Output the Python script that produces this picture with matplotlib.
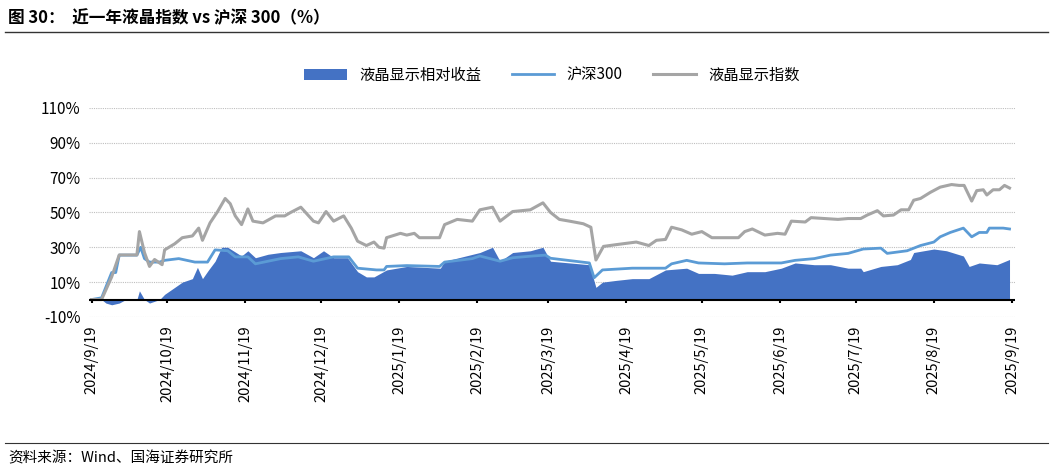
import matplotlib
matplotlib.use("Agg")
import matplotlib.pyplot as plt
import pandas as pd
import numpy as np

plt.rcParams['font.family'] = ['Noto Sans CJK SC', 'DejaVu Sans']

start = pd.Timestamp('2024-09-19')

gray_days = [0,4,8,11,18,19,21,23,25,28,29,33,36,40,42.5,44,47,50,53,55,57,59.5,62,64,68,73,76.6,79,83,88,90,93,96,100,103,105.5,109,112,114,116,117,122.5,125,128,130,138,140,145,151,154,159,162,167,174,179,
             182,185.5,189.5,195,198,200,203,208,216,221,224,227.6,230,234,238,242,246,251,256.5,259,262,267,272,275,277.5,283,285.3,290.6,296,300,305,307.6,311.6,314,318,321,324,326,328.7,332.6,336.5,341,344,346,349,351,353.6,355,357.5,360,362,364]
gray_vals = [0,0,13,25.6,25.6,39,27,19,23,20,28.5,32,35.5,36.5,41,34,44,50.5,58,55,48,43,52,45,44,48,48,50,53,45,44,50.5,45,48,41,33.5,31,33,30,29.5,35.5,38,37,38,35.5,35.5,43,46,45,51.5,53,45,50.5,51.5,55.5,
             50,46,45,43.5,41.5,22.7,30.5,31.5,33,31,34,34.5,41.5,40,37.5,39,35.5,35.5,35.5,39,40.5,37,38,37.5,45,44.5,47,46.5,46,46.5,46.5,48.5,51,48,48.5,51.5,51.5,57,58,61.5,64.5,66,65.5,65.5,56.5,62.5,63,60,63,63,65.5,64]

hs_days = [0,4,8,9.6,11,18,19.5,21,23,27,29,34.6,41,46,49,54,57,62,65,70,75,82,88,96,102,105.5,113,116,117,125,138,140,151,154,162,167,175,180,
           182,197.4,199.3,202.6,214.4,227.6,230,236,240.7,251,260,273.5,279,286.6,293,300,306,313,315.5,323.4,328.7,334,336.5,340.5,345.7,349,352,355,356,361.5,364]
hs_vals = [0,1,15.5,15.5,25.5,25.5,30,23.5,21.5,21.5,22.5,23.5,21.5,21.5,28.5,28,24.5,24.5,20.5,22,23.5,24.5,22,24.5,24.5,18,17,17,19,19.5,19,21.5,23.5,25,22,24,25,25.5,
           23.7,21,12.5,17,18,18,20.5,22.5,21,20.5,21,21,22.5,23.5,25.5,26.5,29,29.5,26.5,28,31,33,36,38.5,41,36,38.5,38.5,41,41,40.5]

rel_days = [0,4,5.7,8,11,13.6,18,19,21,23,25,27,29,32,36,40,42,44,46.4,49,51.6,54,59.5,62,65,70,75,83,88,92,96,101.5,105.5,109,112,117,125,138.3,140,154,159,162,167,174,179,
            182,197.4,200,202.6,208,214.4,221,227.6,236,240.7,247,254,260,267,273.5,279,286.6,293,300,305,306,313,319.5,324.7,326,334,339,345.7,348,352,359,364]
rel_vals = [0,0,-2,-3,-2,0,0,5,0,-2,-1,0,3,6,10,12,18.5,12,17,22,30,30,25,28,24,26,27,28,24,28,24,24,16,13,13,17,19,18,22,27,30,22,27,28,30,
            22,20,7,10,11,12,12,17,18,15,15,14,16,16,18,21,20,20,18,18,16,19,20,23,27,29,28,25,19,21,20,23]

tick_labels = ['2024/9/19','2024/10/19','2024/11/19','2024/12/19','2025/1/19','2025/2/19','2025/3/19',
               '2025/4/19','2025/5/19','2025/6/19','2025/7/19','2025/8/19','2025/9/19']
yticks = [-10,10,30,50,70,90,110]

def to_dates(d):
    return start + pd.to_timedelta(np.array(d, dtype=float), unit='D')

fig = plt.figure(figsize=(10.53, 4.71), dpi=100)
ax = fig.add_axes([0.0845, 0.327, 0.879, 0.444])

rd = to_dates(rel_days)
ax.fill_between(rd, 0, rel_vals, color='#4472C4', linewidth=0, label='液晶显示相对收益')
ax.plot(to_dates(hs_days), hs_vals, color='#5B9BD5', lw=2, label='沪深300')
ax.plot(to_dates(gray_days), gray_vals, color='#A5A5A5', lw=2.2, label='液晶显示指数')

tick_dates = pd.to_datetime(tick_labels, format='%Y/%m/%d')
ax.axhline(0, color='black', lw=1.5, zorder=5)
ax.vlines(tick_dates, -2.2, 0, color='black', lw=1.5, zorder=5)

ax.set_ylim(-10, 110)
ax.set_xlim(tick_dates[0] - pd.Timedelta(days=1), tick_dates[-1] + pd.Timedelta(days=1))
ax.set_yticks(yticks)
ax.set_yticklabels([f'{v}%' for v in yticks], fontsize=11)
ax.set_xticks(tick_dates)
ax.set_xticklabels(tick_labels, rotation=90, fontsize=10.5)
ax.tick_params(length=0, pad=6)
for y in yticks:
    ax.axhline(y, color='#BFBFBF', lw=0.8, ls=(0, (1, 1)), zorder=0)
for s in ax.spines.values():
    s.set_visible(False)

ax.legend(loc='lower center', bbox_to_anchor=(0.5, 1.05), ncol=3, frameon=False, fontsize=11,
          handlelength=2.8, columnspacing=2)

fig.text(0.008, 0.962, '图 30：  近一年液晶指数 vs 沪深 300（%）', fontsize=12, fontweight='bold', va='center')
fig.add_artist(plt.Line2D([0.005, 0.995], [0.932, 0.932], color='#333333', lw=1))
fig.add_artist(plt.Line2D([0.005, 0.995], [0.06, 0.06], color='#333333', lw=0.8))
fig.text(0.008, 0.027, '资料来源：Wind、国海证券研究所', fontsize=10.5, va='center')

fig.savefig('out.png', dpi=100)
